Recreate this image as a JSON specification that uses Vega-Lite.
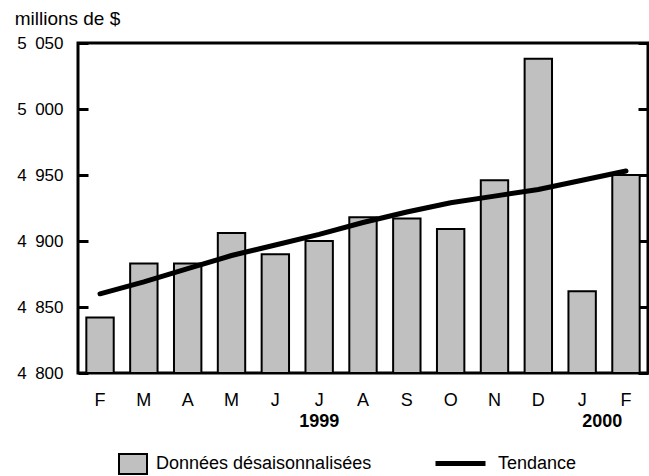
{
  "$schema": "https://vega.github.io/schema/vega-lite/v6.json",
  "width": 570,
  "height": 330,
  "autosize": {"type": "none"},
  "padding": {"left": 78, "top": 43, "right": 1, "bottom": 103},
  "background": "white",
  "title": {
    "text": "millions de $",
    "anchor": "start",
    "frame": "bounds",
    "fontSize": 19,
    "fontWeight": "normal",
    "font": "Liberation Sans",
    "color": "black",
    "baseline": "alphabetic",
    "offset": -10,
    "dx": -2
  },
  "config": {
    "view": {"stroke": "black", "strokeWidth": 3},
    "font": "Liberation Sans",
    "axis": {"labelColor": "black", "labelFont": "Liberation Sans", "grid": false, "title": null},
    "legend": {"padding": 0, "labelFont": "Liberation Sans", "labelColor": "black", "labelFontSize": 18, "title": null, "labelLimit": 400}
  },
  "data": {
    "values": [
      {"k": "1999-02", "value": 4842, "trend": 4860},
      {"k": "1999-03", "value": 4883, "trend": 4869},
      {"k": "1999-04", "value": 4883, "trend": 4879},
      {"k": "1999-05", "value": 4906, "trend": 4889},
      {"k": "1999-06", "value": 4890, "trend": 4897},
      {"k": "1999-07", "value": 4900, "trend": 4905},
      {"k": "1999-08", "value": 4918, "trend": 4914},
      {"k": "1999-09", "value": 4917, "trend": 4922},
      {"k": "1999-10", "value": 4909, "trend": 4929},
      {"k": "1999-11", "value": 4946, "trend": 4934},
      {"k": "1999-12", "value": 5038, "trend": 4939},
      {"k": "2000-01", "value": 4862, "trend": 4946},
      {"k": "2000-02", "value": 4950, "trend": 4953}
    ]
  },
  "layer": [
    {
      "mark": {"type": "bar", "stroke": "black", "strokeWidth": 2},
      "encoding": {
        "x": {
          "field": "k",
          "type": "nominal",
          "sort": null,
          "scale": {"paddingInner": 0.375, "paddingOuter": 0.19},
          "axis": {
            "orient": "bottom",
            "domain": false,
            "ticks": false,
            "labelAngle": 0,
            "labelFontSize": 18,
            "labelPadding": 18,
            "labelExpr": "['J','F','M','A','M','J','J','A','S','O','N','D'][toNumber(substring(datum.value,5,7))-1]"
          }
        },
        "y": {
          "field": "value",
          "type": "quantitative",
          "scale": {"domain": [4800, 5050], "nice": false, "zero": false},
          "axis": {
            "orient": "left",
            "values": [4800, 4850, 4900, 4950, 5000, 5050],
            "domain": false,
            "tickSize": -10,
            "tickWidth": 3,
            "tickColor": "black",
            "labelFontSize": 17,
            "labelPadding": 25,
            "labelExpr": "replace(format(datum.value, ','), ',', '\u2002')"
          }
        },
        "y2": {"datum": 4800},
        "fill": {
          "datum": "Données désaisonnalisées",
          "scale": {"range": ["#c0c0c0"]},
          "legend": {
            "orient": "none",
            "legendX": 44,
            "legendY": 410,
            "symbolType": "M-1.4,-1L1.4,-1L1.4,1L-1.4,1Z",
            "symbolSize": 400,
            "symbolStrokeColor": "black",
            "symbolStrokeWidth": 2,
            "symbolOpacity": 1,
            "labelOffset": 12
          }
        }
      }
    },
    {
      "mark": {"type": "line", "strokeWidth": 5, "strokeCap": "round"},
      "encoding": {
        "x": {
          "field": "k",
          "type": "nominal",
          "sort": null,
          "axis": {
            "orient": "bottom",
            "domain": false,
            "ticks": false,
            "labelAngle": 0,
            "labelFontSize": 18,
            "labelFontWeight": "bold",
            "labelPadding": 39,
            "labelAlign": {"condition": {"test": "datum.value == '2000-01'", "value": "left"}, "value": "center"},
            "labelExpr": "datum.value == '1999-07' ? '1999' : datum.value == '2000-01' ? '2000' : ''"
          }
        },
        "y": {
          "field": "trend",
          "type": "quantitative",
          "scale": {"domain": [4800, 5050], "nice": false, "zero": false},
          "axis": {
            "orient": "right",
            "values": [4800, 4850, 4900, 4950, 5000, 5050],
            "domain": false,
            "labels": false,
            "tickSize": -10,
            "tickWidth": 3,
            "tickColor": "black"
          }
        },
        "stroke": {
          "datum": "Tendance",
          "scale": {"range": ["black"]},
          "legend": {
            "orient": "none",
            "legendX": 355,
            "legendY": 393,
            "symbolType": "stroke",
            "symbolSize": 2500,
            "symbolStrokeWidth": 5,
            "labelOffset": 10
          }
        }
      }
    }
  ],
  "resolve": {"axis": {"x": "independent", "y": "independent"}}
}
